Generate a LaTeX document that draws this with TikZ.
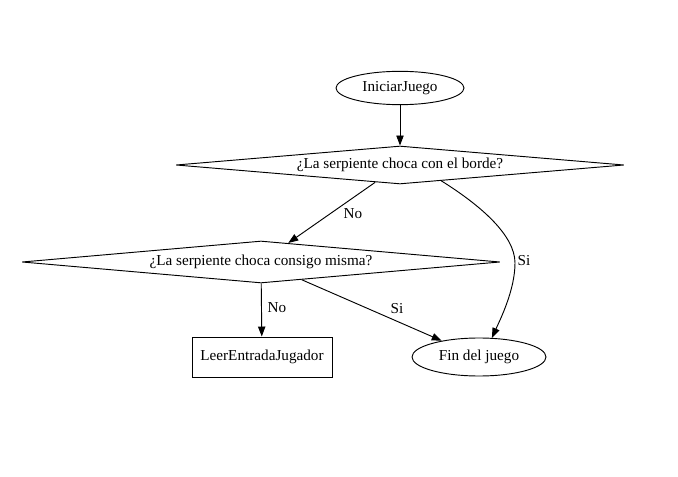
\documentclass[tikz,border=0pt]{standalone}
\usepackage{fontspec}
\setmainfont{Liberation Serif}
\usetikzlibrary{shapes.geometric,arrows.meta}
\begin{document}
\begin{tikzpicture}[x=0.75pt,y=-0.75pt,
  every node/.style={font=\fontsize{11.4pt}{13pt}\selectfont},
  ell/.style={ellipse,draw,line width=0.7pt,inner sep=0pt},
  dia/.style={diamond,draw,line width=0.7pt,inner sep=0pt},
  boxnode/.style={rectangle,draw,line width=0.7pt,inner sep=0pt,minimum width=105pt,minimum height=30pt},
  arr/.style={line width=0.7pt,-{Triangle[length=7.5pt,width=5.5pt]}},
  lab/.style={inner sep=0pt}]
\useasboundingbox (0,0) rectangle (678,477);
\node[ell,minimum width=96pt,minimum height=25pt] (start) at (400,88) {IniciarJuego};
\node[dia,aspect=11.8,minimum width=336pt,minimum height=28.5pt] (d1) at (400,165) {¿La serpiente choca con el borde?};
\node[dia,aspect=11.4,minimum width=358.5pt,minimum height=31.5pt] (d2) at (261,262) {¿La serpiente choca consigo misma?};
\node[boxnode] (leer) at (262,357) {LeerEntradaJugador};
\node[ell,minimum width=100.5pt,minimum height=28.5pt] (fin) at (479,357) {Fin del juego};
\draw[arr] (start) -- (d1);
\draw[arr] (d1) -- (d2);
\draw[arr] (d2) -- (leer);
\draw[arr] (d2) -- (fin);
\draw[arr] (d1.-21) .. controls (480,205) and (515,235) .. (515,263) .. controls (515,290) and (500,320) .. (fin.56);
\node[lab] (l1) at (353,214) {No};
\node[lab] (l2) at (524,261) {Si};
\node[lab] (l3) at (277,308) {No};
\node[lab] (l4) at (397,309) {Si};
\end{tikzpicture}
\end{document}
